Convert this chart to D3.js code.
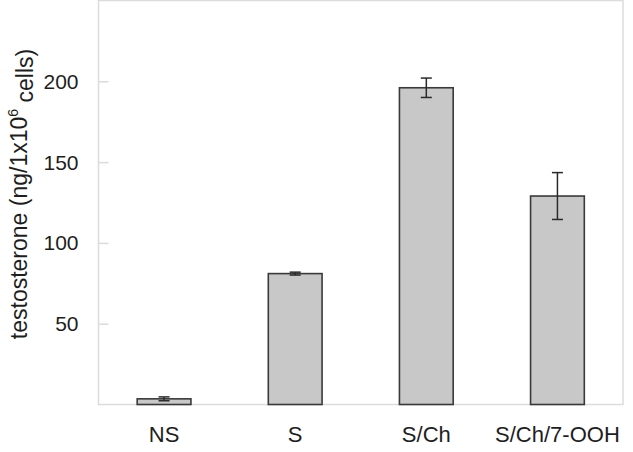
<!DOCTYPE html>
<html><head><meta charset="utf-8">
<script src="https://cdn.jsdelivr.net/npm/d3@7"></script>
<style>body{margin:0;background:#fff}svg{display:block}text{font-family:"Liberation Sans",Arial,sans-serif;fill:#1e1e1e}</style>
</head><body>
<svg id="c" width="633" height="452"></svg>
<script>
const categories = ["NS", "S", "S/Ch", "S/Ch/7-OOH"];
const values = [3.5, 81, 196, 129];
const errors = [1.2, 0.9, 6, 14.5];
const yTicks = [50, 100, 150, 200];

const svg = d3.select("#c");
const L = 98.5, R = 623, T = 0.5, B = 404.5;
const x = d3.scaleBand().domain(categories).range([L, R]).paddingInner(0.59).paddingOuter(0.295);
const y = d3.scaleLinear().domain([0, 250]).range([B, T]);

// frame
svg.append("rect").attr("x", L).attr("y", T).attr("width", R - L).attr("height", B - T)
  .attr("fill", "none").attr("stroke", "#dcdcdc").attr("stroke-width", 1.5);

// y axis
const ya = svg.append("g").attr("transform", `translate(${L},0)`)
  .call(d3.axisRight(y).tickValues(yTicks).tickSize(10).tickFormat(""));
ya.select(".domain").remove();
ya.selectAll("line").attr("stroke", "#dcdcdc").attr("stroke-width", 1.5);
svg.append("g").selectAll("text").data(yTicks).join("text")
  .attr("x", 78.5).attr("y", d => y(d)).attr("dy", "0.36em")
  .attr("text-anchor", "end").attr("font-size", 21).text(d => d);

// bars
svg.append("g").selectAll("rect").data(values).join("rect")
  .attr("x", (d, i) => x(categories[i]))
  .attr("y", d => y(d))
  .attr("width", x.bandwidth())
  .attr("height", d => y(0) - y(d))
  .attr("fill", "#c8c8c8").attr("stroke", "#3a3a3a").attr("stroke-width", 1.6);

// error bars
const eg = svg.append("g").attr("stroke", "#2a2a2a").attr("stroke-width", 1.5);
values.forEach((v, i) => {
  const cx = x(categories[i]) + x.bandwidth() / 2;
  const e = errors[i];
  eg.append("line").attr("x1", cx).attr("x2", cx).attr("y1", y(v + e)).attr("y2", y(v - e));
  eg.append("line").attr("x1", cx - 5.5).attr("x2", cx + 5.5).attr("y1", y(v + e)).attr("y2", y(v + e));
  eg.append("line").attr("x1", cx - 5.5).attr("x2", cx + 5.5).attr("y1", y(v - e)).attr("y2", y(v - e));
});

// x labels
svg.append("g").selectAll("text").data(categories).join("text")
  .attr("x", d => x(d) + x.bandwidth() / 2).attr("y", 442)
  .attr("text-anchor", "middle").attr("font-size", 22).text(d => d);

// y title
const t = svg.append("text").attr("transform", "translate(27,194) rotate(-90)")
  .attr("text-anchor", "middle").attr("font-size", 23);
t.append("tspan").text("testosterone (ng/1x10");
t.append("tspan").attr("font-size", 14).attr("dy", "-0.65em").text("6");
t.append("tspan").attr("dy", "0.65em").text(" cells)");
</script>
</body></html>
